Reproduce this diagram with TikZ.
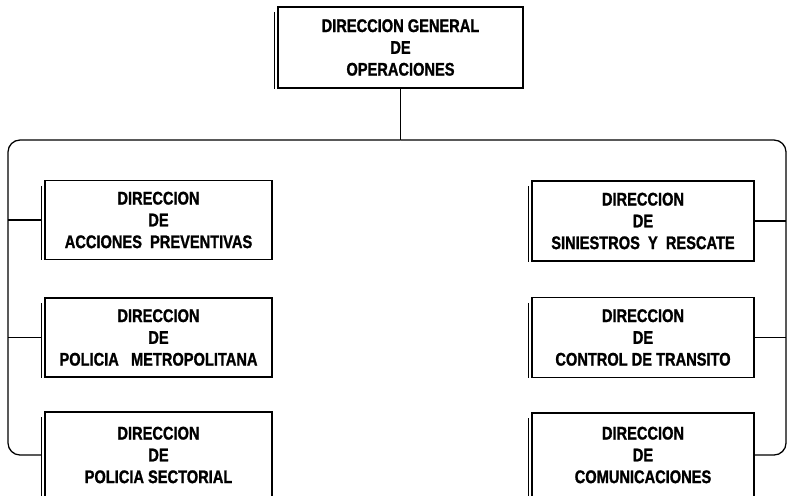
\documentclass[tikz,border=0pt]{standalone}
\usepackage{fontspec}
\setmainfont{Liberation Sans}[FakeStretch=0.8, BoldFeatures={FakeBold=1.2}]
\usepackage{tikz}
\usetikzlibrary{positioning,calc}

\begin{document}
\begin{tikzpicture}[x=0.025cm, y=-0.025cm,
    dirbox/.style={rectangle, draw=black, fill=white, line width=0.9pt, align=center,
      font=\fontsize{13}{15.5}\selectfont\bfseries, inner sep=2pt},
    topbox/.style={dirbox, minimum width=245*0.025cm, minimum height=81*0.025cm},
    leftbox/.style={dirbox, minimum width=227*0.025cm, minimum height=79*0.025cm},
    rightbox/.style={dirbox, minimum width=222*0.025cm, minimum height=80*0.025cm},
    bus/.style={draw=black, line width=0.9pt, rounded corners=12*0.025cm},
    edge/.style={draw=black, line width=0.9pt}
  ]
    \useasboundingbox (0,0) rectangle (788,495);

    % top level
    \node[topbox] (gen) at (400.5,47.5) {DIRECCION GENERAL\\DE\\OPERACIONES};

    % left column
    \node[leftbox] (prev) at (158.5,220) {DIRECCION\\DE\\ACCIONES~~PREVENTIVAS};
    \node[leftbox] (metro) at (158.5,337.5) {DIRECCION\\DE\\POLICIA~~~METROPOLITANA};
    \node[leftbox, minimum height=86*0.025cm] (sect) at (158.5,455) {DIRECCION\\DE\\POLICIA SECTORIAL};

    % right column
    \node[rightbox] (sini) at (643,221) {DIRECCION\\DE\\SINIESTROS~~Y~~RESCATE};
    \node[rightbox] (trans) at (643,337.5) {DIRECCION\\DE\\CONTROL DE TRANSITO};
    \node[rightbox, minimum height=84*0.025cm] (comu) at (643,455) {DIRECCION\\DE\\COMUNICACIONES};

    % doubled left edges of the boxes
    \foreach \b in {gen,prev,metro,sect,sini,trans,comu} {
      \draw[line width=0.7pt] ($(\b.north west)+(-3,6)$) -- ($(\b.south west)+(-3,0)$);
    }

    % bus lines
    \coordinate (split) at (gen.south |- 0,140);
    \coordinate (lbus) at (8,140);
    \coordinate (rbus) at (786,140);
    \draw[edge] (gen.south) -- (split);
    \draw[bus] (split) -- (lbus) -- (lbus |- sect.west) -- ($(sect.west)+(-3,0)$);
    \draw[bus] (split) -- (rbus) -- (rbus |- comu.east) -- (comu.east);
    \draw[edge] ($(prev.west)+(-3,0)$) -- (prev.west -| lbus);
    \draw[edge] ($(metro.west)+(-3,0)$) -- (metro.west -| lbus);
    \draw[edge] (sini.east) -- (sini.east -| rbus);
    \draw[edge] (trans.east) -- (trans.east -| rbus);
  \end{tikzpicture}
\end{document}
